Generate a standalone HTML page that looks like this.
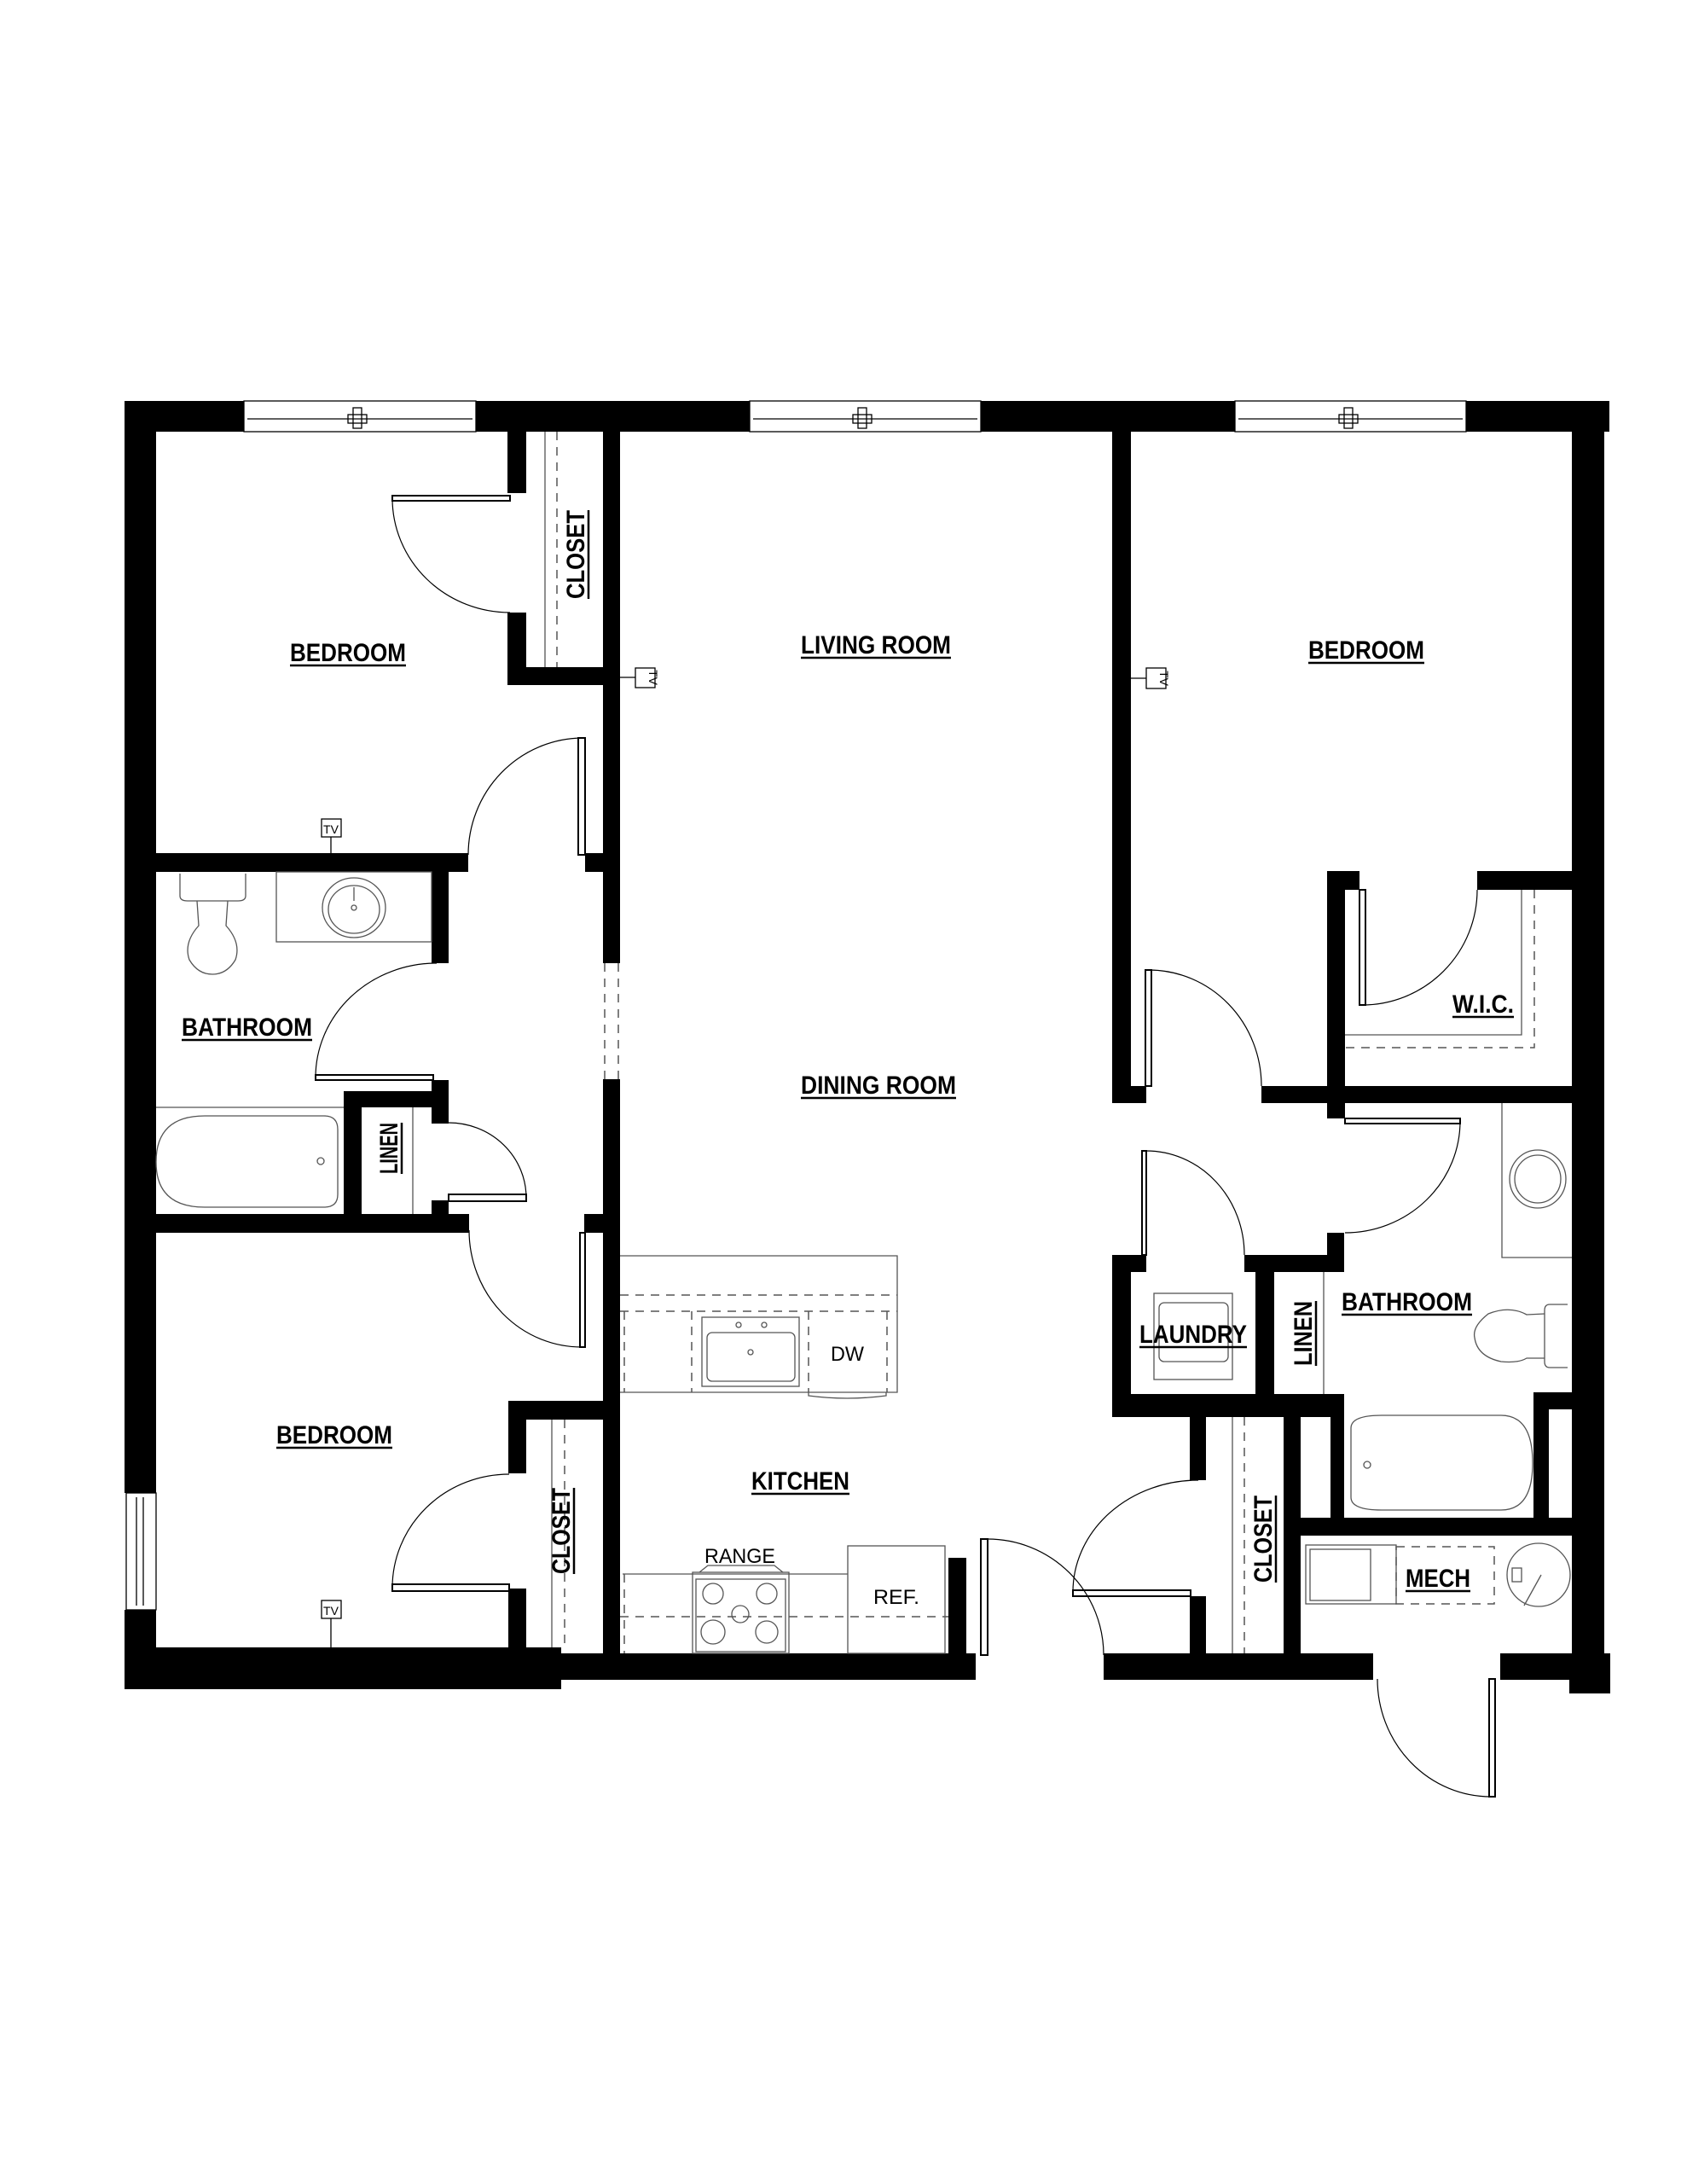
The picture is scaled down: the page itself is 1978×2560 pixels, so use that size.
<!DOCTYPE html>
<html><head><meta charset="utf-8"><style>
html,body{margin:0;padding:0;background:#fff;}
svg{display:block;}
.l{font-family:"Liberation Sans",Arial,sans-serif;font-weight:bold;font-size:30px;fill:#000;}
.s{font-family:"Liberation Sans",Arial,sans-serif;font-size:24px;fill:#000;}
.ul{stroke:#000;stroke-width:2.5;}
.f{fill:none;stroke:#000;stroke-width:1.3;}
.g{fill:none;stroke:#555;stroke-width:1.3;}
.d{fill:none;stroke:#555;stroke-width:1.5;stroke-dasharray:10,8;}
.lf{fill:#fff;stroke:#000;stroke-width:2;}
.a{fill:none;stroke:#000;stroke-width:1.2;}
</style></head><body>
<svg width="1978" height="2560" viewBox="0 0 1978 2560" xmlns="http://www.w3.org/2000/svg">
<rect width="1978" height="2560" fill="#fff"/>
<!-- windows top -->
<g class="f">
<rect x="286" y="470" width="272" height="36"/><line x1="290" y1="491" x2="554" y2="491"/>
<rect x="879" y="470" width="271" height="36"/><line x1="883" y1="491" x2="1146" y2="491"/>
<rect x="1448" y="470" width="271" height="36"/><line x1="1452" y1="491" x2="1715" y2="491"/>
<rect x="414" y="478" width="10" height="24"/><rect x="408" y="486" width="22" height="10"/>
<rect x="1006" y="478" width="10" height="24"/><rect x="1000" y="486" width="22" height="10"/>
<rect x="1576" y="478" width="10" height="24"/><rect x="1570" y="486" width="22" height="10"/>
<rect x="148" y="1750" width="35" height="137"/><line x1="160" y1="1755" x2="160" y2="1882"/><line x1="168" y1="1755" x2="168" y2="1882"/>
</g>
<!-- walls -->
<g fill="#000">
<rect x="146" y="470" width="140" height="36"/><rect x="558" y="470" width="321" height="36"/>
<rect x="1150" y="470" width="298" height="36"/><rect x="1719" y="470" width="168" height="36"/>
<rect x="146" y="470" width="37" height="1280"/><rect x="146" y="1887" width="37" height="93"/>
<rect x="1843" y="470" width="38" height="1515"/><rect x="1840" y="1938" width="48" height="47"/>
<rect x="146" y="1931" width="512" height="49"/><rect x="658" y="1938" width="486" height="31"/>
<rect x="1294" y="1938" width="316" height="31"/><rect x="1759" y="1938" width="84" height="31"/>
<rect x="595" y="506" width="22" height="72"/><rect x="595" y="718" width="22" height="85"/><rect x="595" y="782" width="132" height="21"/>
<rect x="707" y="506" width="20" height="623"/><rect x="707" y="1265" width="20" height="704"/>
<rect x="686" y="1000" width="21" height="22"/>
<rect x="183" y="1000" width="366" height="22"/>
<rect x="506" y="1022" width="20" height="107"/>
<rect x="506" y="1266" width="20" height="51"/><rect x="403" y="1279" width="123" height="19"/>
<rect x="403" y="1279" width="21" height="144"/><rect x="506" y="1407" width="20" height="16"/>
<rect x="183" y="1423" width="367" height="22"/><rect x="685" y="1423" width="22" height="22"/>
<rect x="596" y="1642" width="111" height="22"/><rect x="596" y="1642" width="21" height="85"/><rect x="596" y="1862" width="21" height="72"/>
<rect x="1304" y="506" width="22" height="787"/><rect x="1304" y="1273" width="40" height="20"/>
<rect x="1556" y="1021" width="21" height="290"/><rect x="1556" y="1021" width="38" height="22"/><rect x="1732" y="1021" width="111" height="22"/>
<rect x="1479" y="1273" width="364" height="20"/>
<rect x="1304" y="1471" width="22" height="190"/><rect x="1304" y="1471" width="40" height="20"/>
<rect x="1459" y="1471" width="117" height="20"/><rect x="1556" y="1445" width="20" height="26"/>
<rect x="1472" y="1491" width="22" height="143"/><rect x="1304" y="1634" width="272" height="27"/>
<rect x="1505" y="1634" width="20" height="306"/><rect x="1560" y="1634" width="16" height="166"/>
<rect x="1798" y="1632" width="45" height="20"/><rect x="1798" y="1632" width="18" height="156"/>
<rect x="1505" y="1779" width="338" height="21"/>
<rect x="1395" y="1661" width="19" height="74"/><rect x="1395" y="1871" width="19" height="69"/>
<rect x="1112" y="1826" width="21" height="114"/>
</g>
<!-- opening dashed -->
<line x1="709" y1="1129" x2="709" y2="1265" class="d"/><line x1="725" y1="1129" x2="725" y2="1265" class="d"/>
<!-- closets lines -->
<line x1="639" y1="506" x2="639" y2="782" class="g"/><line x1="653" y1="506" x2="653" y2="782" class="d"/>
<line x1="647" y1="1664" x2="647" y2="1931" class="g"/><line x1="662" y1="1664" x2="662" y2="1931" class="d"/>
<line x1="1445" y1="1661" x2="1445" y2="1938" class="g"/><line x1="1459" y1="1661" x2="1459" y2="1938" class="d"/>
<line x1="484" y1="1298" x2="484" y2="1423" class="g"/><line x1="1552" y1="1491" x2="1552" y2="1634" class="g"/>
<!-- WIC shelves -->
<polyline points="1784,1043 1784,1213 1577,1213" class="g"/>
<polyline points="1799,1043 1799,1228 1577,1228" class="d"/>
<!-- doors -->
<rect x="460" y="581" width="138" height="6" class="lf"/><path d="M460,584 A138,134 0 0 0 598,718" class="a"/>
<rect x="678" y="865" width="8" height="137" class="lf"/><path d="M682,865 A135,137 0 0 0 549,1002" class="a"/>
<rect x="370" y="1260" width="138" height="6" class="lf"/><path d="M370,1263 A142,134 0 0 1 512,1129" class="a"/>
<rect x="526" y="1400" width="91" height="8" class="lf"/><path d="M526,1316 A91,88 0 0 1 617,1404" class="a"/>
<rect x="680" y="1445" width="6" height="134" class="lf"/><path d="M550,1442 A132,137 0 0 0 683,1579" class="a"/>
<rect x="460" y="1857" width="137" height="8" class="lf"/><path d="M597,1728 A137,133 0 0 0 460,1861" class="a"/>
<rect x="1343" y="1137" width="7" height="136" class="lf"/><path d="M1347,1137 A132,136 0 0 1 1479,1273" class="a"/>
<rect x="1594" y="1043" width="7" height="135" class="lf"/><path d="M1597,1178 A135,135 0 0 0 1732,1043" class="a"/>
<rect x="1577" y="1311" width="135" height="6" class="lf"/><path d="M1712,1314 A135,131 0 0 1 1577,1445" class="a"/>
<rect x="1339" y="1349" width="5" height="122" class="lf"/><path d="M1344,1349 A115,122 0 0 1 1459,1471" class="a"/>
<rect x="1258" y="1864" width="138" height="7" class="lf"/><path d="M1405,1735 A147,131 0 0 0 1258,1867" class="a"/>
<rect x="1150" y="1804" width="8" height="136" class="lf"/><path d="M1158,1804 A136,136 0 0 1 1294,1940" class="a"/>
<rect x="1746" y="1968" width="7" height="138" class="lf"/><path d="M1615,1968 A133,138 0 0 0 1748,2106" class="a"/>
<!-- TVs -->
<g class="f"><rect x="377" y="960" width="23" height="21"/><line x1="388" y1="981" x2="388" y2="1000"/>
<rect x="745" y="783" width="23" height="23"/><line x1="727" y1="794" x2="745" y2="794"/>
<rect x="1344" y="783" width="23" height="24"/><line x1="1326" y1="795" x2="1344" y2="795"/>
<rect x="377" y="1876" width="23" height="21"/><line x1="388" y1="1897" x2="388" y2="1931"/></g>
<text x="388" y="977" font-family="Liberation Sans" font-size="14" text-anchor="middle">TV</text>
<text x="388" y="1893" font-family="Liberation Sans" font-size="14" text-anchor="middle">TV</text>
<text transform="translate(761,794) rotate(90)" font-family="Liberation Sans" font-size="14" text-anchor="middle">TV</text>
<text transform="translate(1360,795) rotate(90)" font-family="Liberation Sans" font-size="14" text-anchor="middle">TV</text>
<!-- left bath fixtures -->
<g class="g">
<path d="M211,1024 L211,1050 Q211,1056 220,1056 L279,1056 Q288,1056 288,1050 L288,1024"/>
<path d="M231,1056 L233,1085 Q215,1105 222,1125 Q232,1142 249,1142 Q266,1142 276,1125 Q283,1105 265,1085 L267,1056"/>
<rect x="324" y="1022" width="182" height="82"/>
<ellipse cx="415" cy="1064" rx="37" ry="35"/><ellipse cx="415" cy="1066" rx="30" ry="28"/>
<circle cx="415" cy="1064" r="3"/><line x1="415" y1="1040" x2="415" y2="1056"/>
<line x1="183" y1="1298" x2="403" y2="1298"/>
<path d="M240,1308 L380,1308 Q396,1308 396,1324 L396,1400 Q396,1415 380,1415 L240,1415 Q183,1415 183,1362 Q183,1308 240,1308Z"/>
<circle cx="376" cy="1361" r="4"/>
<!-- right bath -->
<path d="M1761,1293 L1761,1474 L1843,1474"/>
<ellipse cx="1803" cy="1382" rx="33" ry="34"/><ellipse cx="1803" cy="1382" rx="27" ry="28"/>
<path d="M1838,1529 L1817,1529 Q1811,1529 1811,1536 L1811,1596 Q1811,1603 1817,1603 L1838,1603"/>
<path d="M1811,1540 L1790,1541 Q1770,1530 1745,1540 Q1726,1555 1729,1568 Q1732,1590 1760,1596 Q1780,1598 1790,1592 L1811,1592"/>
<path d="M1620,1659 L1760,1659 Q1797,1659 1797,1715 Q1797,1770 1760,1770 L1620,1770 Q1584,1770 1584,1755 L1584,1674 Q1584,1659 1620,1659Z"/>
<circle cx="1603" cy="1717" r="4"/>
<!-- laundry -->
<rect x="1353" y="1516" width="92" height="101"/><rect x="1359" y="1527" width="81" height="69" rx="6"/>
<!-- mech -->
<rect x="1531" y="1811" width="106" height="69"/><rect x="1536" y="1816" width="71" height="60"/>
<circle cx="1804" cy="1846" r="37"/><rect x="1773" y="1838" width="11" height="16"/>
<line x1="1787" y1="1882" x2="1807" y2="1846"/>
<!-- kitchen -->
<polyline points="727,1472 1052,1472 1052,1632 727,1632"/>
<rect x="823" y="1544" width="114" height="81"/><rect x="829" y="1562" width="103" height="57" rx="6"/>
<circle cx="866" cy="1553" r="3"/><circle cx="896" cy="1553" r="3"/><circle cx="880" cy="1585" r="3"/>
<path d="M948,1632 L948,1636 Q993,1642 1039,1636 L1039,1632"/>
<line x1="730" y1="1845" x2="994" y2="1845"/>
<rect x="812" y="1843" width="113" height="95"/><rect x="816" y="1851" width="105" height="85"/>
<path d="M820,1843 L830,1835 L908,1835 L918,1843"/>
<circle cx="836" cy="1868" r="12"/><circle cx="899" cy="1868" r="12"/><circle cx="868" cy="1892" r="10"/>
<circle cx="836" cy="1913" r="14"/><circle cx="899" cy="1913" r="13"/>
<rect x="994" y="1812" width="114" height="126"/>
</g>
<g class="d">
<line x1="727" y1="1518" x2="1052" y2="1518"/><line x1="727" y1="1537" x2="1052" y2="1537"/>
<line x1="732" y1="1537" x2="732" y2="1632"/><line x1="811" y1="1537" x2="811" y2="1632"/>
<line x1="948" y1="1537" x2="948" y2="1632"/><line x1="1040" y1="1537" x2="1040" y2="1632"/>
<line x1="727" y1="1895" x2="1112" y2="1895"/><line x1="732" y1="1845" x2="732" y2="1938"/>
<rect x="1637" y="1813" width="115" height="67"/>
</g>
<!-- labels -->
<g class="l">
<text x="340" y="775" textLength="136" lengthAdjust="spacingAndGlyphs">BEDROOM</text><line x1="340" y1="780" x2="476" y2="780" class="ul"/>
<text x="939" y="766" textLength="176" lengthAdjust="spacingAndGlyphs">LIVING ROOM</text><line x1="939" y1="771" x2="1115" y2="771" class="ul"/>
<text x="1534" y="772" textLength="136" lengthAdjust="spacingAndGlyphs">BEDROOM</text><line x1="1534" y1="777" x2="1670" y2="777" class="ul"/>
<text x="939" y="1282" textLength="182" lengthAdjust="spacingAndGlyphs">DINING ROOM</text><line x1="939" y1="1287" x2="1121" y2="1287" class="ul"/>
<text x="1703" y="1187" textLength="72" lengthAdjust="spacingAndGlyphs">W.I.C.</text><line x1="1703" y1="1192" x2="1775" y2="1192" class="ul"/>
<text x="213" y="1214" textLength="153" lengthAdjust="spacingAndGlyphs">BATHROOM</text><line x1="213" y1="1219" x2="366" y2="1219" class="ul"/>
<text x="324" y="1692" textLength="136" lengthAdjust="spacingAndGlyphs">BEDROOM</text><line x1="324" y1="1697" x2="460" y2="1697" class="ul"/>
<text x="881" y="1746" textLength="115" lengthAdjust="spacingAndGlyphs">KITCHEN</text><line x1="881" y1="1751" x2="996" y2="1751" class="ul"/>
<text x="1336" y="1574" textLength="126" lengthAdjust="spacingAndGlyphs">LAUNDRY</text><line x1="1336" y1="1579" x2="1462" y2="1579" class="ul"/>
<text x="1573" y="1536" textLength="153" lengthAdjust="spacingAndGlyphs">BATHROOM</text><line x1="1573" y1="1541" x2="1726" y2="1541" class="ul"/>
<text x="1648" y="1860" textLength="76" lengthAdjust="spacingAndGlyphs">MECH</text><line x1="1648" y1="1865" x2="1724" y2="1865" class="ul"/>
<g transform="translate(685,702) rotate(-90)"><text x="0" y="0" textLength="104" lengthAdjust="spacingAndGlyphs">CLOSET</text><line x1="0" y1="5" x2="104" y2="5" class="ul"/></g>
<g transform="translate(466,1376) rotate(-90)"><text x="0" y="0" textLength="60" lengthAdjust="spacingAndGlyphs">LINEN</text><line x1="0" y1="5" x2="60" y2="5" class="ul"/></g>
<g transform="translate(668,1845) rotate(-90)"><text x="0" y="0" textLength="101" lengthAdjust="spacingAndGlyphs">CLOSET</text><line x1="0" y1="5" x2="101" y2="5" class="ul"/></g>
<g transform="translate(1538,1601) rotate(-90)"><text x="0" y="0" textLength="76" lengthAdjust="spacingAndGlyphs">LINEN</text><line x1="0" y1="5" x2="76" y2="5" class="ul"/></g>
<g transform="translate(1491,1855) rotate(-90)"><text x="0" y="0" textLength="102" lengthAdjust="spacingAndGlyphs">CLOSET</text><line x1="0" y1="5" x2="102" y2="5" class="ul"/></g>
</g>
<g class="s">
<text x="826" y="1832" textLength="83" lengthAdjust="spacingAndGlyphs">RANGE</text>
<text x="974" y="1595" textLength="39" lengthAdjust="spacingAndGlyphs">DW</text>
<text x="1024" y="1880" textLength="54" lengthAdjust="spacingAndGlyphs">REF.</text>
</g>
</svg>
</body></html>
